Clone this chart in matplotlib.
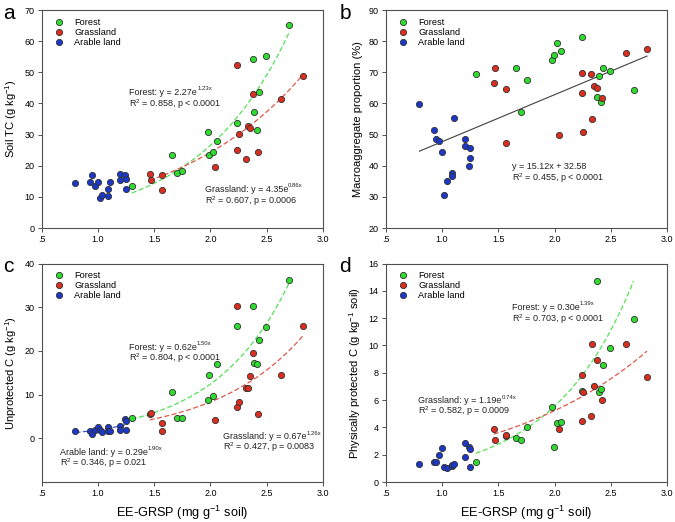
import numpy as np
import matplotlib
matplotlib.use('Agg')
import matplotlib.pyplot as plt

plt.rcParams['font.family'] = ['Liberation Sans', 'DejaVu Sans']
plt.rcParams['mathtext.default'] = 'regular'

# sample EE-GRSP values (mg g-1 soil), same samples in every panel
x_forest = [1.30, 1.66, 1.70, 1.75, 1.98, 1.99, 2.02, 2.06, 2.24, 2.38, 2.39, 2.41, 2.43, 2.49, 2.70]
x_grass = [1.46, 1.47, 1.57, 1.57, 2.04, 2.24, 2.24, 2.25, 2.32, 2.33, 2.35, 2.38, 2.42, 2.63, 2.82]
x_arable = [0.80, 0.93, 0.95, 0.97, 1.00, 1.02, 1.04, 1.09, 1.09, 1.11, 1.20, 1.20, 1.24, 1.25, 1.25]

# a - soil TC
tc_forest = [13.4, 23.3, 17.7, 18.4, 30.8, 23.6, 24.5, 27.8, 33.7, 54.4, 37.2, 31.4, 43.7, 55.2, 65.1]
tc_grass = [17.4, 15.5, 16.9, 12.3, 19.6, 52.2, 25.2, 30.1, 22.2, 32.9, 32.0, 42.9, 24.4, 41.4, 48.7]
tc_arable = [14.6, 14.7, 17.0, 13.4, 14.9, 9.5, 10.7, 10.3, 12.6, 14.8, 17.5, 15.3, 17.0, 12.4, 15.6]

# b - macroaggregate proportion
ma_forest = [69.4, 71.3, 57.4, 67.4, 74.1, 75.6, 79.5, 76.8, 81.2, 62.2, 68.8, 60.5, 71.3, 70.5, 64.4]
ma_grass = [66.6, 71.3, 64.5, 47.2, 49.8, 69.7, 63.3, 50.8, 69.6, 54.9, 65.5, 64.9, 61.6, 76.3, 77.6]
ma_arable = [59.7, 51.4, 48.6, 48.0, 44.3, 30.7, 35.1, 37.8, 36.8, 55.2, 48.6, 46.2, 40.0, 45.7, 42.6]

# c - unprotected C
uc_forest = [4.7, 10.5, 4.7, 4.7, 8.8, 14.4, 9.7, 17.1, 25.6, 30.2, 17.2, 17.1, 22.4, 25.4, 36.3]
uc_grass = [5.5, 5.8, 3.4, 1.6, 4.1, 30.2, 7.1, 8.2, 11.6, 11.6, 14.2, 19.5, 5.6, 14.6, 25.6]
uc_arable = [1.7, 1.7, 1.0, 2.0, 2.7, 2.0, 1.4, 2.5, 1.6, 1.6, 2.8, 1.8, 4.4, 1.8, 3.9]

# d - physically protected C
pc_forest = [1.5, 3.2, 3.1, 4.0, 5.5, 2.6, 4.3, 4.4, 6.7, 14.75, 6.6, 6.8, 8.6, 9.8, 11.9]
pc_grass = [3.9, 3.1, 3.4, 3.45, 3.9, 7.8, 4.5, 6.6, 4.85, 10.1, 7.05, 8.9, 6.0, 10.1, 7.7]
pc_arable = [1.35, 1.5, 1.5, 1.95, 2.5, 1.1, 1.05, 1.2, 1.25, 1.3, 2.85, 1.8, 2.55, 1.1, 2.4]

# fitted curves (y = a*exp(b*x)) and line
fit_a = {'forest': (2.27, 1.23), 'grass': (4.35, 0.86)}
fit_c = {'forest': (0.62, 1.50), 'grass': (0.67, 1.26), 'arable': (0.29, 1.90)}
fit_d = {'forest': (0.345, 1.39), 'grass': (1.19, 0.74)}
lin_b = (15.12, 32.58)

GREEN = '#2ddc2d'
RED = '#dc2e1e'
BLUE = '#1c38c8'
LGREEN = '#55e055'
LRED = '#e0584a'
LBLUE = '#3a55d0'
SPINE = '#505050'
TXT = '#222222'

fig = plt.figure(figsize=(6.75, 5.22), dpi=100)
ax_a = fig.add_axes([0.0618, 0.5632, 0.4167, 0.4176])
ax_b = fig.add_axes([0.5714, 0.5632, 0.4172, 0.4176])
ax_c = fig.add_axes([0.0618, 0.0766, 0.4167, 0.4186])
ax_d = fig.add_axes([0.5714, 0.0766, 0.4172, 0.4186])


def scatter3(ax, yf, yg, ya):
    kw = dict(s=20, edgecolors='#303030', linewidths=0.6, zorder=3)
    ax.scatter(x_forest, yf, c=GREEN, label='Forest', **kw)
    ax.scatter(x_grass, yg, c=RED, label='Grassland', **kw)
    ax.scatter(x_arable, ya, c=BLUE, label='Arable land', **kw)
    ax.legend(loc='upper left', frameon=False, fontsize=6.6, handletextpad=0.7,
              labelspacing=0.12, borderaxespad=0.45, bbox_to_anchor=(0.0, 1.0),
              scatteryoffsets=[0.5])


def exp_curve(ax, xs, ab, color):
    xx = np.linspace(min(xs), max(xs), 100)
    ax.plot(xx, ab[0] * np.exp(ab[1] * xx), color=color, lw=0.9,
            dashes=(4, 2), zorder=2)


def style(ax, ylim, yticks):
    ax.set_xlim(0.5, 3.0)
    ax.set_xticks([0.5, 1.0, 1.5, 2.0, 2.5, 3.0])
    ax.set_xticklabels(['.5', '1.0', '1.5', '2.0', '2.5', '3.0'])
    ax.set_ylim(*ylim)
    ax.set_yticks(yticks)
    ax.tick_params(direction='out', length=3, width=0.7, labelsize=6.5,
                   color=SPINE, pad=2)
    for sp in ax.spines.values():
        sp.set_color(SPINE)
        sp.set_linewidth(0.8)


def label2(ax, x, y1, y2, l1, sup, l2):
    # first line with a tiny exponent set as a separate text
    t = ax.text(x, y1, l1, fontsize=6.5, va='baseline', ha='left', color=TXT)
    if sup:
        ax.annotate(sup, xy=(1, 0.62), xycoords=t, fontsize=4.3,
                    va='bottom', ha='left', color=TXT)
    ax.text(x, y2, l2, fontsize=6.5, va='baseline', ha='left', color=TXT)


# a
scatter3(ax_a, tc_forest, tc_grass, tc_arable)
exp_curve(ax_a, x_forest, fit_a['forest'], LGREEN)
exp_curve(ax_a, x_grass, fit_a['grass'], LRED)
style(ax_a, (0, 70), range(0, 71, 10))
ax_a.set_ylabel('Soil TC (g kg$^{-1}$)', fontsize=8, labelpad=4)
label2(ax_a, 1.28, 42.7, 38.9, 'Forest: y = 2.27e', '1.23x', 'R$^2$ = 0.858, p < 0.0001')
label2(ax_a, 1.95, 11.6, 7.8, 'Grassland: y = 4.35e', '0.86x', 'R$^2$ = 0.607, p = 0.0006')

# b
scatter3(ax_b, ma_forest, ma_grass, ma_arable)
x_all = x_forest + x_grass + x_arable
xx = np.linspace(min(x_all), max(x_all), 10)
ax_b.plot(xx, lin_b[0] * xx + lin_b[1], color='#404040', lw=0.8, zorder=2)
style(ax_b, (20, 90), range(20, 91, 10))
ax_b.set_ylabel('Macroaggregate proportion (%)', fontsize=8, labelpad=4)
label2(ax_b, 1.62, 38.9, 35.1, 'y = 15.12x + 32.58', None, 'R$^2$ = 0.455, p < 0.0001')

# c
scatter3(ax_c, uc_forest, uc_grass, uc_arable)
exp_curve(ax_c, x_forest, fit_c['forest'], LGREEN)
exp_curve(ax_c, x_grass, fit_c['grass'], LRED)
exp_curve(ax_c, x_arable, fit_c['arable'], LBLUE)
style(ax_c, (-10, 40), range(0, 41, 10))
ax_c.set_ylabel('Unprotected C (g kg$^{-1}$)', fontsize=8, labelpad=4)
ax_c.set_xlabel('EE-GRSP (mg g$^{-1}$ soil)', fontsize=9.2, labelpad=4)
label2(ax_c, 1.275, 20.2, 17.7, 'Forest: y = 0.62e', '1.50x', 'R$^2$ = 0.804, p < 0.0001')
label2(ax_c, 2.11, -0.2, -2.7, 'Grassland: y = 0.67e', '1.26x', 'R$^2$ = 0.427, p = 0.0083')
label2(ax_c, 0.66, -3.8, -6.3, 'Arable land: y = 0.29e', '1.90x', 'R$^2$ = 0.346, p = 0.021')

# d
scatter3(ax_d, pc_forest, pc_grass, pc_arable)
exp_curve(ax_d, x_forest, fit_d['forest'], LGREEN)
exp_curve(ax_d, x_grass, fit_d['grass'], LRED)
style(ax_d, (0, 16), range(0, 17, 2))
ax_d.set_ylabel('Physically protected C (g kg$^{-1}$ soil)', fontsize=8, labelpad=4)
ax_d.set_xlabel('EE-GRSP (mg g$^{-1}$ soil)', fontsize=9.2, labelpad=4)
label2(ax_d, 1.62, 12.6, 11.7, 'Forest: y = 0.30e', '1.39x', 'R$^2$ = 0.703, p < 0.0001')
label2(ax_d, 0.79, 5.76, 4.95, 'Grassland: y = 1.19e', '0.74x', 'R$^2$ = 0.582, p = 0.0009')

# panel letters
fig.text(0.004, 0.992, 'a', fontsize=15, va='top', ha='left')
fig.text(0.503, 0.992, 'b', fontsize=15, va='top', ha='left')
fig.text(0.004, 0.508, 'c', fontsize=15, va='top', ha='left')
fig.text(0.503, 0.508, 'd', fontsize=15, va='top', ha='left')

fig.savefig('out.png', dpi=100)
